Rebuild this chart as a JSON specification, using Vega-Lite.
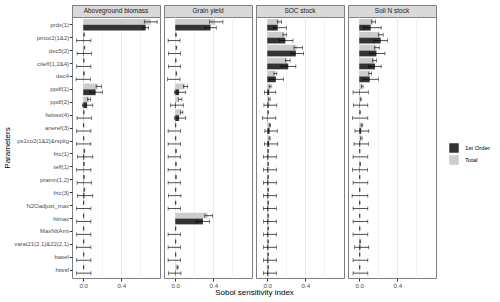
{
"$schema": "https://vega.github.io/schema/vega-lite/v6.json",
"padding": {"left": 3, "top": 4, "right": 5, "bottom": 3},
"background": "white",
"config": {"font": "Liberation Sans", "view": {"stroke": "#808080"}},
"columns": 4,
"spacing": {"row": 0, "column": 4},
"bounds": "flush",
"resolve": {"scale": {"fill": "shared"}, "legend": {"fill": "shared"}},
"datasets": {"d": [
{"p":"Aboveground biomass","v":"prdx(1)","t":"Total","s":0.71,"lo":0.64,"hi":0.775},
{"p":"Aboveground biomass","v":"prdx(1)","t":"1st Order","s":0.655,"lo":0.625,"hi":0.685},
{"p":"Aboveground biomass","v":"pmco2(1&2)","t":"Total","s":0.008,"lo":0.004,"hi":0.012},
{"p":"Aboveground biomass","v":"pmco2(1&2)","t":"1st Order","s":0.004,"lo":-0.07,"hi":0.08},
{"p":"Aboveground biomass","v":"dec5(2)","t":"Total","s":0.012,"lo":0.008,"hi":0.016},
{"p":"Aboveground biomass","v":"dec5(2)","t":"1st Order","s":0.006,"lo":-0.065,"hi":0.085},
{"p":"Aboveground biomass","v":"citeff(1,2&4)","t":"Total","s":0.006,"lo":0.003,"hi":0.009},
{"p":"Aboveground biomass","v":"citeff(1,2&4)","t":"1st Order","s":0.0,"lo":-0.07,"hi":0.08},
{"p":"Aboveground biomass","v":"dec4","t":"Total","s":0.008,"lo":0.004,"hi":0.012},
{"p":"Aboveground biomass","v":"dec4","t":"1st Order","s":0.002,"lo":-0.075,"hi":0.075},
{"p":"Aboveground biomass","v":"ppdf(1)","t":"Total","s":0.15,"lo":0.135,"hi":0.19},
{"p":"Aboveground biomass","v":"ppdf(1)","t":"1st Order","s":0.13,"lo":0.07,"hi":0.2},
{"p":"Aboveground biomass","v":"ppdf(2)","t":"Total","s":0.06,"lo":0.045,"hi":0.075},
{"p":"Aboveground biomass","v":"ppdf(2)","t":"1st Order","s":0.04,"lo":-0.01,"hi":0.1},
{"p":"Aboveground biomass","v":"fwloss(4)","t":"Total","s":0.006,"lo":0.003,"hi":0.009},
{"p":"Aboveground biomass","v":"fwloss(4)","t":"1st Order","s":0.002,"lo":-0.065,"hi":0.085},
{"p":"Aboveground biomass","v":"aneref(3)","t":"Total","s":0.004,"lo":0.001,"hi":0.007},
{"p":"Aboveground biomass","v":"aneref(3)","t":"1st Order","s":0.0,"lo":-0.07,"hi":0.08},
{"p":"Aboveground biomass","v":"ps1co2(1&2)&rsplig","t":"Total","s":0.004,"lo":0.001,"hi":0.007},
{"p":"Aboveground biomass","v":"ps1co2(1&2)&rsplig","t":"1st Order","s":0.0,"lo":-0.07,"hi":0.08},
{"p":"Aboveground biomass","v":"frtc(1)","t":"Total","s":0.012,"lo":0.008,"hi":0.016},
{"p":"Aboveground biomass","v":"frtc(1)","t":"1st Order","s":0.01,"lo":-0.06,"hi":0.1},
{"p":"Aboveground biomass","v":"teff(1)","t":"Total","s":0.008,"lo":0.004,"hi":0.012},
{"p":"Aboveground biomass","v":"teff(1)","t":"1st Order","s":0.004,"lo":-0.07,"hi":0.08},
{"p":"Aboveground biomass","v":"pramn(1,2)","t":"Total","s":0.008,"lo":0.004,"hi":0.012},
{"p":"Aboveground biomass","v":"pramn(1,2)","t":"1st Order","s":0.004,"lo":-0.065,"hi":0.085},
{"p":"Aboveground biomass","v":"frtc(3)","t":"Total","s":0.012,"lo":0.008,"hi":0.016},
{"p":"Aboveground biomass","v":"frtc(3)","t":"1st Order","s":0.012,"lo":-0.06,"hi":0.1},
{"p":"Aboveground biomass","v":"N2Oadjust_max","t":"Total","s":0.004,"lo":0.001,"hi":0.007},
{"p":"Aboveground biomass","v":"N2Oadjust_max","t":"1st Order","s":0.0,"lo":-0.07,"hi":0.08},
{"p":"Aboveground biomass","v":"himax","t":"Total","s":0.004,"lo":0.001,"hi":0.007},
{"p":"Aboveground biomass","v":"himax","t":"1st Order","s":0.0,"lo":-0.07,"hi":0.08},
{"p":"Aboveground biomass","v":"MaxNitAmt","t":"Total","s":0.004,"lo":0.001,"hi":0.007},
{"p":"Aboveground biomass","v":"MaxNitAmt","t":"1st Order","s":0.0,"lo":-0.07,"hi":0.08},
{"p":"Aboveground biomass","v":"varat21(2,1)&22(2,1)","t":"Total","s":0.004,"lo":0.001,"hi":0.007},
{"p":"Aboveground biomass","v":"varat21(2,1)&22(2,1)","t":"1st Order","s":0.0,"lo":-0.07,"hi":0.08},
{"p":"Aboveground biomass","v":"basef","t":"Total","s":0.004,"lo":0.001,"hi":0.007},
{"p":"Aboveground biomass","v":"basef","t":"1st Order","s":0.0,"lo":-0.07,"hi":0.08},
{"p":"Aboveground biomass","v":"hiwsf","t":"Total","s":0.004,"lo":0.001,"hi":0.007},
{"p":"Aboveground biomass","v":"hiwsf","t":"1st Order","s":0.0,"lo":-0.07,"hi":0.08},

{"p":"Grain yield","v":"prdx(1)","t":"Total","s":0.42,"lo":0.36,"hi":0.5},
{"p":"Grain yield","v":"prdx(1)","t":"1st Order","s":0.37,"lo":0.31,"hi":0.43},
{"p":"Grain yield","v":"pmco2(1&2)","t":"Total","s":0.008,"lo":0.004,"hi":0.012},
{"p":"Grain yield","v":"pmco2(1&2)","t":"1st Order","s":0.0,"lo":-0.075,"hi":0.05},
{"p":"Grain yield","v":"dec5(2)","t":"Total","s":0.012,"lo":0.008,"hi":0.016},
{"p":"Grain yield","v":"dec5(2)","t":"1st Order","s":0.0,"lo":-0.07,"hi":0.055},
{"p":"Grain yield","v":"citeff(1,2&4)","t":"Total","s":0.006,"lo":0.003,"hi":0.009},
{"p":"Grain yield","v":"citeff(1,2&4)","t":"1st Order","s":0.0,"lo":-0.07,"hi":0.055},
{"p":"Grain yield","v":"dec4","t":"Total","s":0.012,"lo":0.008,"hi":0.016},
{"p":"Grain yield","v":"dec4","t":"1st Order","s":0.0,"lo":-0.08,"hi":0.05},
{"p":"Grain yield","v":"ppdf(1)","t":"Total","s":0.1,"lo":0.085,"hi":0.13},
{"p":"Grain yield","v":"ppdf(1)","t":"1st Order","s":0.04,"lo":-0.01,"hi":0.11},
{"p":"Grain yield","v":"ppdf(2)","t":"Total","s":0.04,"lo":0.035,"hi":0.07},
{"p":"Grain yield","v":"ppdf(2)","t":"1st Order","s":0.007,"lo":-0.05,"hi":0.085},
{"p":"Grain yield","v":"fwloss(4)","t":"Total","s":0.06,"lo":0.055,"hi":0.08},
{"p":"Grain yield","v":"fwloss(4)","t":"1st Order","s":0.04,"lo":-0.01,"hi":0.11},
{"p":"Grain yield","v":"aneref(3)","t":"Total","s":0.004,"lo":0.001,"hi":0.007},
{"p":"Grain yield","v":"aneref(3)","t":"1st Order","s":0.0,"lo":-0.075,"hi":0.055},
{"p":"Grain yield","v":"ps1co2(1&2)&rsplig","t":"Total","s":0.004,"lo":0.001,"hi":0.007},
{"p":"Grain yield","v":"ps1co2(1&2)&rsplig","t":"1st Order","s":0.0,"lo":-0.075,"hi":0.055},
{"p":"Grain yield","v":"frtc(1)","t":"Total","s":0.008,"lo":0.004,"hi":0.012},
{"p":"Grain yield","v":"frtc(1)","t":"1st Order","s":0.0,"lo":-0.075,"hi":0.055},
{"p":"Grain yield","v":"teff(1)","t":"Total","s":0.008,"lo":0.004,"hi":0.012},
{"p":"Grain yield","v":"teff(1)","t":"1st Order","s":0.0,"lo":-0.075,"hi":0.055},
{"p":"Grain yield","v":"pramn(1,2)","t":"Total","s":0.008,"lo":0.004,"hi":0.012},
{"p":"Grain yield","v":"pramn(1,2)","t":"1st Order","s":0.0,"lo":-0.075,"hi":0.055},
{"p":"Grain yield","v":"frtc(3)","t":"Total","s":0.004,"lo":0.001,"hi":0.007},
{"p":"Grain yield","v":"frtc(3)","t":"1st Order","s":0.0,"lo":-0.07,"hi":0.06},
{"p":"Grain yield","v":"N2Oadjust_max","t":"Total","s":0.004,"lo":0.001,"hi":0.007},
{"p":"Grain yield","v":"N2Oadjust_max","t":"1st Order","s":0.0,"lo":-0.075,"hi":0.055},
{"p":"Grain yield","v":"himax","t":"Total","s":0.34,"lo":0.31,"hi":0.39},
{"p":"Grain yield","v":"himax","t":"1st Order","s":0.29,"lo":0.22,"hi":0.36},
{"p":"Grain yield","v":"MaxNitAmt","t":"Total","s":0.004,"lo":0.001,"hi":0.007},
{"p":"Grain yield","v":"MaxNitAmt","t":"1st Order","s":0.0,"lo":-0.075,"hi":0.055},
{"p":"Grain yield","v":"varat21(2,1)&22(2,1)","t":"Total","s":0.004,"lo":0.001,"hi":0.007},
{"p":"Grain yield","v":"varat21(2,1)&22(2,1)","t":"1st Order","s":0.0,"lo":-0.075,"hi":0.055},
{"p":"Grain yield","v":"basef","t":"Total","s":0.004,"lo":0.001,"hi":0.007},
{"p":"Grain yield","v":"basef","t":"1st Order","s":0.0,"lo":-0.075,"hi":0.055},
{"p":"Grain yield","v":"hiwsf","t":"Total","s":0.025,"lo":0.02,"hi":0.03},
{"p":"Grain yield","v":"hiwsf","t":"1st Order","s":0.005,"lo":-0.07,"hi":0.06},

{"p":"SOC stock","v":"prdx(1)","t":"Total","s":0.125,"lo":0.105,"hi":0.15},
{"p":"SOC stock","v":"prdx(1)","t":"1st Order","s":0.11,"lo":0.065,"hi":0.2},
{"p":"SOC stock","v":"pmco2(1&2)","t":"Total","s":0.18,"lo":0.165,"hi":0.2},
{"p":"SOC stock","v":"pmco2(1&2)","t":"1st Order","s":0.19,"lo":0.13,"hi":0.27},
{"p":"SOC stock","v":"dec5(2)","t":"Total","s":0.31,"lo":0.28,"hi":0.37},
{"p":"SOC stock","v":"dec5(2)","t":"1st Order","s":0.3,"lo":0.25,"hi":0.38},
{"p":"SOC stock","v":"citeff(1,2&4)","t":"Total","s":0.21,"lo":0.19,"hi":0.24},
{"p":"SOC stock","v":"citeff(1,2&4)","t":"1st Order","s":0.22,"lo":0.15,"hi":0.3},
{"p":"SOC stock","v":"dec4","t":"Total","s":0.08,"lo":0.07,"hi":0.1},
{"p":"SOC stock","v":"dec4","t":"1st Order","s":0.09,"lo":0.02,"hi":0.17},
{"p":"SOC stock","v":"ppdf(1)","t":"Total","s":0.03,"lo":0.02,"hi":0.04},
{"p":"SOC stock","v":"ppdf(1)","t":"1st Order","s":0.02,"lo":-0.03,"hi":0.09},
{"p":"SOC stock","v":"ppdf(2)","t":"Total","s":0.02,"lo":0.015,"hi":0.03},
{"p":"SOC stock","v":"ppdf(2)","t":"1st Order","s":0.015,"lo":-0.035,"hi":0.1},
{"p":"SOC stock","v":"fwloss(4)","t":"Total","s":0.01,"lo":0.006,"hi":0.014},
{"p":"SOC stock","v":"fwloss(4)","t":"1st Order","s":0.005,"lo":-0.05,"hi":0.09},
{"p":"SOC stock","v":"aneref(3)","t":"Total","s":0.03,"lo":0.02,"hi":0.035},
{"p":"SOC stock","v":"aneref(3)","t":"1st Order","s":0.025,"lo":-0.025,"hi":0.105},
{"p":"SOC stock","v":"ps1co2(1&2)&rsplig","t":"Total","s":0.025,"lo":0.02,"hi":0.03},
{"p":"SOC stock","v":"ps1co2(1&2)&rsplig","t":"1st Order","s":0.02,"lo":-0.03,"hi":0.11},
{"p":"SOC stock","v":"frtc(1)","t":"Total","s":0.01,"lo":0.006,"hi":0.014},
{"p":"SOC stock","v":"frtc(1)","t":"1st Order","s":0.012,"lo":-0.04,"hi":0.095},
{"p":"SOC stock","v":"teff(1)","t":"Total","s":0.01,"lo":0.006,"hi":0.014},
{"p":"SOC stock","v":"teff(1)","t":"1st Order","s":0.012,"lo":-0.04,"hi":0.095},
{"p":"SOC stock","v":"pramn(1,2)","t":"Total","s":0.01,"lo":0.006,"hi":0.014},
{"p":"SOC stock","v":"pramn(1,2)","t":"1st Order","s":0.012,"lo":-0.04,"hi":0.095},
{"p":"SOC stock","v":"frtc(3)","t":"Total","s":0.01,"lo":0.006,"hi":0.014},
{"p":"SOC stock","v":"frtc(3)","t":"1st Order","s":0.012,"lo":-0.04,"hi":0.095},
{"p":"SOC stock","v":"N2Oadjust_max","t":"Total","s":0.01,"lo":0.006,"hi":0.014},
{"p":"SOC stock","v":"N2Oadjust_max","t":"1st Order","s":0.012,"lo":-0.04,"hi":0.095},
{"p":"SOC stock","v":"himax","t":"Total","s":0.01,"lo":0.006,"hi":0.014},
{"p":"SOC stock","v":"himax","t":"1st Order","s":0.012,"lo":-0.04,"hi":0.095},
{"p":"SOC stock","v":"MaxNitAmt","t":"Total","s":0.01,"lo":0.006,"hi":0.014},
{"p":"SOC stock","v":"MaxNitAmt","t":"1st Order","s":0.012,"lo":-0.04,"hi":0.095},
{"p":"SOC stock","v":"varat21(2,1)&22(2,1)","t":"Total","s":0.01,"lo":0.006,"hi":0.014},
{"p":"SOC stock","v":"varat21(2,1)&22(2,1)","t":"1st Order","s":0.012,"lo":-0.04,"hi":0.095},
{"p":"SOC stock","v":"basef","t":"Total","s":0.01,"lo":0.006,"hi":0.014},
{"p":"SOC stock","v":"basef","t":"1st Order","s":0.012,"lo":-0.04,"hi":0.095},
{"p":"SOC stock","v":"hiwsf","t":"Total","s":0.01,"lo":0.006,"hi":0.014},
{"p":"SOC stock","v":"hiwsf","t":"1st Order","s":0.012,"lo":-0.04,"hi":0.095},

{"p":"Soil N stock","v":"prdx(1)","t":"Total","s":0.145,"lo":0.13,"hi":0.17},
{"p":"Soil N stock","v":"prdx(1)","t":"1st Order","s":0.12,"lo":0.05,"hi":0.23},
{"p":"Soil N stock","v":"pmco2(1&2)","t":"Total","s":0.215,"lo":0.2,"hi":0.25},
{"p":"Soil N stock","v":"pmco2(1&2)","t":"1st Order","s":0.225,"lo":0.155,"hi":0.295},
{"p":"Soil N stock","v":"dec5(2)","t":"Total","s":0.18,"lo":0.16,"hi":0.21},
{"p":"Soil N stock","v":"dec5(2)","t":"1st Order","s":0.18,"lo":0.11,"hi":0.27},
{"p":"Soil N stock","v":"citeff(1,2&4)","t":"Total","s":0.155,"lo":0.14,"hi":0.18},
{"p":"Soil N stock","v":"citeff(1,2&4)","t":"1st Order","s":0.165,"lo":0.1,"hi":0.23},
{"p":"Soil N stock","v":"dec4","t":"Total","s":0.11,"lo":0.1,"hi":0.13},
{"p":"Soil N stock","v":"dec4","t":"1st Order","s":0.11,"lo":0.04,"hi":0.2},
{"p":"Soil N stock","v":"ppdf(1)","t":"Total","s":0.03,"lo":0.025,"hi":0.04},
{"p":"Soil N stock","v":"ppdf(1)","t":"1st Order","s":0.005,"lo":-0.065,"hi":0.095},
{"p":"Soil N stock","v":"ppdf(2)","t":"Total","s":0.015,"lo":0.01,"hi":0.02},
{"p":"Soil N stock","v":"ppdf(2)","t":"1st Order","s":0.005,"lo":-0.06,"hi":0.09},
{"p":"Soil N stock","v":"fwloss(4)","t":"Total","s":0.008,"lo":0.004,"hi":0.012},
{"p":"Soil N stock","v":"fwloss(4)","t":"1st Order","s":0.0,"lo":-0.07,"hi":0.09},
{"p":"Soil N stock","v":"aneref(3)","t":"Total","s":0.025,"lo":0.02,"hi":0.035},
{"p":"Soil N stock","v":"aneref(3)","t":"1st Order","s":0.02,"lo":-0.045,"hi":0.1},
{"p":"Soil N stock","v":"ps1co2(1&2)&rsplig","t":"Total","s":0.02,"lo":0.015,"hi":0.03},
{"p":"Soil N stock","v":"ps1co2(1&2)&rsplig","t":"1st Order","s":0.01,"lo":-0.055,"hi":0.095},
{"p":"Soil N stock","v":"frtc(1)","t":"Total","s":0.005,"lo":0.002,"hi":0.008},
{"p":"Soil N stock","v":"frtc(1)","t":"1st Order","s":0.0,"lo":-0.065,"hi":0.09},
{"p":"Soil N stock","v":"teff(1)","t":"Total","s":0.01,"lo":0.006,"hi":0.014},
{"p":"Soil N stock","v":"teff(1)","t":"1st Order","s":0.005,"lo":-0.07,"hi":0.085},
{"p":"Soil N stock","v":"pramn(1,2)","t":"Total","s":0.005,"lo":0.002,"hi":0.008},
{"p":"Soil N stock","v":"pramn(1,2)","t":"1st Order","s":0.0,"lo":-0.065,"hi":0.09},
{"p":"Soil N stock","v":"frtc(3)","t":"Total","s":0.005,"lo":0.002,"hi":0.008},
{"p":"Soil N stock","v":"frtc(3)","t":"1st Order","s":0.0,"lo":-0.075,"hi":0.09},
{"p":"Soil N stock","v":"N2Oadjust_max","t":"Total","s":0.005,"lo":0.002,"hi":0.008},
{"p":"Soil N stock","v":"N2Oadjust_max","t":"1st Order","s":0.0,"lo":-0.065,"hi":0.09},
{"p":"Soil N stock","v":"himax","t":"Total","s":0.005,"lo":0.002,"hi":0.008},
{"p":"Soil N stock","v":"himax","t":"1st Order","s":0.0,"lo":-0.065,"hi":0.09},
{"p":"Soil N stock","v":"MaxNitAmt","t":"Total","s":0.005,"lo":0.002,"hi":0.008},
{"p":"Soil N stock","v":"MaxNitAmt","t":"1st Order","s":0.0,"lo":-0.065,"hi":0.09},
{"p":"Soil N stock","v":"varat21(2,1)&22(2,1)","t":"Total","s":0.01,"lo":0.006,"hi":0.014},
{"p":"Soil N stock","v":"varat21(2,1)&22(2,1)","t":"1st Order","s":0.012,"lo":-0.05,"hi":0.1},
{"p":"Soil N stock","v":"basef","t":"Total","s":0.005,"lo":0.002,"hi":0.008},
{"p":"Soil N stock","v":"basef","t":"1st Order","s":0.0,"lo":-0.065,"hi":0.09},
{"p":"Soil N stock","v":"hiwsf","t":"Total","s":0.005,"lo":0.002,"hi":0.008},
{"p":"Soil N stock","v":"hiwsf","t":"1st Order","s":0.0,"lo":-0.065,"hi":0.09}
]},
"concat": [
{"width": 88, "height": 12, "data": {"values": [{"p": "Aboveground biomass"}]}, "view": {"fill": "#d9d9d9", "stroke": "#808080"}, "mark": {"type": "text", "fontSize": 6.5, "color": "#1a1a1a", "baseline": "middle", "align": "center"}, "encoding": {"text": {"field": "p"}}},
{"width": 88, "height": 12, "data": {"values": [{"p": "Grain yield"}]}, "view": {"fill": "#d9d9d9", "stroke": "#808080"}, "mark": {"type": "text", "fontSize": 6.5, "color": "#1a1a1a", "baseline": "middle", "align": "center"}, "encoding": {"text": {"field": "p"}}},
{"width": 88, "height": 12, "data": {"values": [{"p": "SOC stock"}]}, "view": {"fill": "#d9d9d9", "stroke": "#808080"}, "mark": {"type": "text", "fontSize": 6.5, "color": "#1a1a1a", "baseline": "middle", "align": "center"}, "encoding": {"text": {"field": "p"}}},
{"width": 88, "height": 12, "data": {"values": [{"p": "Soil N stock"}]}, "view": {"fill": "#d9d9d9", "stroke": "#808080"}, "mark": {"type": "text", "fontSize": 6.5, "color": "#1a1a1a", "baseline": "middle", "align": "center"}, "encoding": {"text": {"field": "p"}}},
{"width": 88, "height": 261, "data": {"name": "d"}, "transform": [{"filter": "datum.p === 'Aboveground biomass'"}], "view": {"stroke": "#808080", "fill": "white"},
 "resolve": {"axis": {"x": "independent"}},
 "encoding": {
  "y": {"field": "v", "type": "nominal", "sort": ["prdx(1)","pmco2(1&2)","dec5(2)","citeff(1,2&4)","dec4","ppdf(1)","ppdf(2)","fwloss(4)","aneref(3)","ps1co2(1&2)&rsplig","frtc(1)","teff(1)","pramn(1,2)","frtc(3)","N2Oadjust_max","himax","MaxNitAmt","varat21(2,1)&22(2,1)","basef","hiwsf"], "scale": {"paddingInner": 0.1, "paddingOuter": 0.15},
   "axis": {"title": "Parameters", "titleFontSize": 8, "titleFontWeight": "normal", "titleColor": "black", "titlePadding": 2, "labelFontSize": 5.95, "labelColor": "#4d4d4d", "tickColor": "#333333", "tickSize": 2.7, "labelPadding": 0.8, "domain": false, "gridColor": "#ebebeb", "gridWidth": 1, "bandPosition": 0.5}},
  "yOffset": {"field": "t", "type": "nominal", "sort": ["Total", "1st Order"], "scale": {"paddingInner": 0, "paddingOuter": 0}}
 },
 "layer": [
  {"mark": {"type": "bar"}, "encoding": {"x": {"field": "s", "type": "quantitative", "scale": {"domain": [-0.118, 0.805], "nice": false, "zero": false},
    "axis": {"values": [0, 0.4], "format": ".1f", "labelOverlap": false, "labelFlush": false, "labelFontSize": 6.2, "labelColor": "#4d4d4d", "tickColor": "#333333", "tickSize": 3, "labelPadding": 1, "gridColor": "#ebebeb", "gridWidth": 1, "domain": false, "title": null}},
    "fill": {"field": "t", "type": "nominal", "scale": {"domain": ["1st Order", "Total"], "range": ["#333333", "#cccccc"]}, "legend": {"title": null, "orient": "none", "legendX": 377, "legendY": 138, "symbolType": "square", "symbolSize": 90, "symbolStrokeWidth": 0, "labelFontSize": 6, "labelColor": "black", "rowPadding": 2, "labelOffset": 6}}}},
  {"mark": {"type": "rule", "color": "black", "strokeWidth": 0.7}, "encoding": {"x": {"field": "lo", "type": "quantitative", "axis": {"values": [0.2, 0.6], "labels": false, "ticks": false, "domain": false, "title": null, "grid": true, "gridColor": "#ebebeb", "gridWidth": 0.6}}, "x2": {"field": "hi"}}},
  {"mark": {"type": "tick", "orient": "vertical", "size": 4, "thickness": 0.7, "color": "black"}, "encoding": {"x": {"field": "lo", "type": "quantitative", "axis": null}}},
  {"mark": {"type": "tick", "orient": "vertical", "size": 4, "thickness": 0.7, "color": "black"}, "encoding": {"x": {"field": "hi", "type": "quantitative", "axis": null}}}
 ]},
{"width": 88, "height": 261, "data": {"name": "d"}, "transform": [{"filter": "datum.p === 'Grain yield'"}], "view": {"stroke": "#808080", "fill": "white"},
 "resolve": {"axis": {"x": "independent"}},
 "encoding": {
  "y": {"field": "v", "type": "nominal", "sort": ["prdx(1)","pmco2(1&2)","dec5(2)","citeff(1,2&4)","dec4","ppdf(1)","ppdf(2)","fwloss(4)","aneref(3)","ps1co2(1&2)&rsplig","frtc(1)","teff(1)","pramn(1,2)","frtc(3)","N2Oadjust_max","himax","MaxNitAmt","varat21(2,1)&22(2,1)","basef","hiwsf"], "scale": {"paddingInner": 0.1, "paddingOuter": 0.15},
   "axis": {"title": null, "labels": false, "ticks": false, "domain": false, "gridColor": "#ebebeb", "gridWidth": 1, "bandPosition": 0.5}},
  "yOffset": {"field": "t", "type": "nominal", "sort": ["Total", "1st Order"], "scale": {"paddingInner": 0, "paddingOuter": 0}}
 },
 "layer": [
  {"mark": {"type": "bar"}, "encoding": {"x": {"field": "s", "type": "quantitative", "scale": {"domain": [-0.118, 0.805], "nice": false, "zero": false},
    "axis": {"values": [0, 0.4], "format": ".1f", "labelOverlap": false, "labelFlush": false, "labelFontSize": 6.2, "labelColor": "#4d4d4d", "tickColor": "#333333", "tickSize": 3, "labelPadding": 1, "gridColor": "#ebebeb", "gridWidth": 1, "domain": false, "title": "Sobol sensitivity index", "titleFontSize": 8, "titleFontWeight": "normal", "titleColor": "black", "titleX": 90, "titlePadding": 0}},
    "fill": {"field": "t", "type": "nominal", "scale": {"domain": ["1st Order", "Total"], "range": ["#333333", "#cccccc"]}, "legend": {"title": null, "orient": "none", "legendX": 377, "legendY": 138, "symbolType": "square", "symbolSize": 90, "symbolStrokeWidth": 0, "labelFontSize": 6, "labelColor": "black", "rowPadding": 2, "labelOffset": 6}}}},
  {"mark": {"type": "rule", "color": "black", "strokeWidth": 0.7}, "encoding": {"x": {"field": "lo", "type": "quantitative", "axis": {"values": [0.2, 0.6], "labels": false, "ticks": false, "domain": false, "title": null, "grid": true, "gridColor": "#ebebeb", "gridWidth": 0.6}}, "x2": {"field": "hi"}}},
  {"mark": {"type": "tick", "orient": "vertical", "size": 4, "thickness": 0.7, "color": "black"}, "encoding": {"x": {"field": "lo", "type": "quantitative", "axis": null}}},
  {"mark": {"type": "tick", "orient": "vertical", "size": 4, "thickness": 0.7, "color": "black"}, "encoding": {"x": {"field": "hi", "type": "quantitative", "axis": null}}}
 ]},
{"width": 88, "height": 261, "data": {"name": "d"}, "transform": [{"filter": "datum.p === 'SOC stock'"}], "view": {"stroke": "#808080", "fill": "white"},
 "resolve": {"axis": {"x": "independent"}},
 "encoding": {
  "y": {"field": "v", "type": "nominal", "sort": ["prdx(1)","pmco2(1&2)","dec5(2)","citeff(1,2&4)","dec4","ppdf(1)","ppdf(2)","fwloss(4)","aneref(3)","ps1co2(1&2)&rsplig","frtc(1)","teff(1)","pramn(1,2)","frtc(3)","N2Oadjust_max","himax","MaxNitAmt","varat21(2,1)&22(2,1)","basef","hiwsf"], "scale": {"paddingInner": 0.1, "paddingOuter": 0.15},
   "axis": {"title": null, "labels": false, "ticks": false, "domain": false, "gridColor": "#ebebeb", "gridWidth": 1, "bandPosition": 0.5}},
  "yOffset": {"field": "t", "type": "nominal", "sort": ["Total", "1st Order"], "scale": {"paddingInner": 0, "paddingOuter": 0}}
 },
 "layer": [
  {"mark": {"type": "bar"}, "encoding": {"x": {"field": "s", "type": "quantitative", "scale": {"domain": [-0.118, 0.805], "nice": false, "zero": false},
    "axis": {"values": [0, 0.4], "format": ".1f", "labelOverlap": false, "labelFlush": false, "labelFontSize": 6.2, "labelColor": "#4d4d4d", "tickColor": "#333333", "tickSize": 3, "labelPadding": 1, "gridColor": "#ebebeb", "gridWidth": 1, "domain": false, "title": null}},
    "fill": {"field": "t", "type": "nominal", "scale": {"domain": ["1st Order", "Total"], "range": ["#333333", "#cccccc"]}, "legend": {"title": null, "orient": "none", "legendX": 377, "legendY": 138, "symbolType": "square", "symbolSize": 90, "symbolStrokeWidth": 0, "labelFontSize": 6, "labelColor": "black", "rowPadding": 2, "labelOffset": 6}}}},
  {"mark": {"type": "rule", "color": "black", "strokeWidth": 0.7}, "encoding": {"x": {"field": "lo", "type": "quantitative", "axis": {"values": [0.2, 0.6], "labels": false, "ticks": false, "domain": false, "title": null, "grid": true, "gridColor": "#ebebeb", "gridWidth": 0.6}}, "x2": {"field": "hi"}}},
  {"mark": {"type": "tick", "orient": "vertical", "size": 4, "thickness": 0.7, "color": "black"}, "encoding": {"x": {"field": "lo", "type": "quantitative", "axis": null}}},
  {"mark": {"type": "tick", "orient": "vertical", "size": 4, "thickness": 0.7, "color": "black"}, "encoding": {"x": {"field": "hi", "type": "quantitative", "axis": null}}}
 ]},
{"width": 88, "height": 261, "data": {"name": "d"}, "transform": [{"filter": "datum.p === 'Soil N stock'"}], "view": {"stroke": "#808080", "fill": "white"},
 "resolve": {"axis": {"x": "independent"}},
 "encoding": {
  "y": {"field": "v", "type": "nominal", "sort": ["prdx(1)","pmco2(1&2)","dec5(2)","citeff(1,2&4)","dec4","ppdf(1)","ppdf(2)","fwloss(4)","aneref(3)","ps1co2(1&2)&rsplig","frtc(1)","teff(1)","pramn(1,2)","frtc(3)","N2Oadjust_max","himax","MaxNitAmt","varat21(2,1)&22(2,1)","basef","hiwsf"], "scale": {"paddingInner": 0.1, "paddingOuter": 0.15},
   "axis": {"title": null, "labels": false, "ticks": false, "domain": false, "gridColor": "#ebebeb", "gridWidth": 1, "bandPosition": 0.5}},
  "yOffset": {"field": "t", "type": "nominal", "sort": ["Total", "1st Order"], "scale": {"paddingInner": 0, "paddingOuter": 0}}
 },
 "layer": [
  {"mark": {"type": "bar"}, "encoding": {"x": {"field": "s", "type": "quantitative", "scale": {"domain": [-0.118, 0.805], "nice": false, "zero": false},
    "axis": {"values": [0, 0.4], "format": ".1f", "labelOverlap": false, "labelFlush": false, "labelFontSize": 6.2, "labelColor": "#4d4d4d", "tickColor": "#333333", "tickSize": 3, "labelPadding": 1, "gridColor": "#ebebeb", "gridWidth": 1, "domain": false, "title": null}},
    "fill": {"field": "t", "type": "nominal", "scale": {"domain": ["1st Order", "Total"], "range": ["#333333", "#cccccc"]}, "legend": {"title": null, "orient": "none", "legendX": 377, "legendY": 138, "symbolType": "square", "symbolSize": 90, "symbolStrokeWidth": 0, "labelFontSize": 6, "labelColor": "black", "rowPadding": 2, "labelOffset": 6}}}},
  {"mark": {"type": "rule", "color": "black", "strokeWidth": 0.7}, "encoding": {"x": {"field": "lo", "type": "quantitative", "axis": {"values": [0.2, 0.6], "labels": false, "ticks": false, "domain": false, "title": null, "grid": true, "gridColor": "#ebebeb", "gridWidth": 0.6}}, "x2": {"field": "hi"}}},
  {"mark": {"type": "tick", "orient": "vertical", "size": 4, "thickness": 0.7, "color": "black"}, "encoding": {"x": {"field": "lo", "type": "quantitative", "axis": null}}},
  {"mark": {"type": "tick", "orient": "vertical", "size": 4, "thickness": 0.7, "color": "black"}, "encoding": {"x": {"field": "hi", "type": "quantitative", "axis": null}}}
 ]}
]
}
